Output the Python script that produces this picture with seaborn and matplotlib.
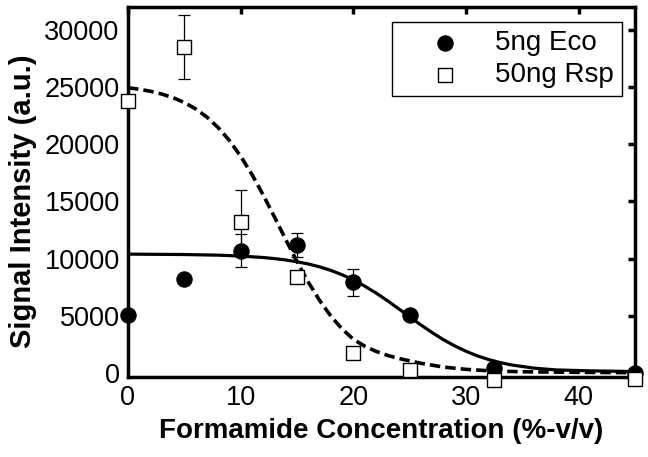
import numpy as np
import pandas as pd
import matplotlib
matplotlib.use("Agg")
import matplotlib.pyplot as plt
import seaborn as sns

# measured points
conc = [0, 5, 10, 15, 20, 25, 32.5, 45]
eco_signal = [5060, 8200, 10700, 11200, 7950, 5060, 440, 0]
eco_err = [250, 250, 1450, 1050, 1180, 250, 250, 250]
rsp_signal = [23800, 28500, 13200, 8380, 1750, 260, -600, -500]
rsp_err = [300, 2800, 2800, 400, 300, 300, 150, 150]

# fitted curves
eco_fit_x = [0, 5, 8, 10, 12, 13, 14, 15, 16, 17, 18, 19, 20, 21, 22, 23, 24,
             25, 26, 27, 28, 29, 30, 31, 32, 33, 34, 36, 38, 41, 45]
eco_fit_y = [10390, 10355, 10300, 10220, 10095, 10000, 9880, 9720, 9530, 9280,
             8970, 8590, 8130, 7600, 7000, 6340, 5630, 4910, 4200, 3530, 2910,
             2370, 1900, 1500, 1180, 920, 710, 430, 270, 190, 130]
rsp_fit_x = [0, 1, 2, 3, 4, 5, 6, 7, 8, 9, 10, 11, 12, 13, 14, 15, 16, 17, 18,
             19, 20, 21, 22, 23, 24, 26, 28, 30, 32.5, 35, 40, 45]
rsp_fit_y = [24930, 24800, 24620, 24380, 24065, 23640, 23085, 22370, 21450,
             20320, 18950, 17355, 15560, 13640, 11665, 9740, 7950, 6350, 4980,
             3850, 2950, 2350, 1900, 1550, 1280, 850, 520, 320, 170, 110, 60, 30]

sns.set_theme(style="white")
plt.rcParams["font.family"] = ["Liberation Sans", "DejaVu Sans"]
plt.rcParams.update({"text.color": "black", "axes.labelcolor": "black",
                     "xtick.color": "black", "ytick.color": "black"})

fig = plt.figure(figsize=(6.48, 4.57), dpi=100)
ax = fig.add_axes([0.1975, 0.175, 0.7825, 0.81])

eco_fit = pd.DataFrame({"x": eco_fit_x, "y": eco_fit_y})
rsp_fit = pd.DataFrame({"x": rsp_fit_x, "y": rsp_fit_y})
sns.lineplot(data=eco_fit, x="x", y="y", color="black", lw=2.3, ax=ax,
             sort=False, zorder=3)
sns.lineplot(data=rsp_fit, x="x", y="y", color="black", lw=2.6, ax=ax,
             sort=False, linestyle=(0, (2.9, 1.4)), zorder=3)

ax.errorbar(conc, eco_signal, yerr=eco_err, fmt="none", ecolor="black",
            elinewidth=0.9, capsize=4.5, capthick=0.9, zorder=2, clip_on=False)
ax.errorbar(conc, rsp_signal, yerr=rsp_err, fmt="none", ecolor="black",
            elinewidth=0.9, capsize=4.5, capthick=0.9, zorder=2, clip_on=False)

pts = pd.DataFrame({"x": conc, "eco": eco_signal, "rsp": rsp_signal})
sns.scatterplot(data=pts, x="x", y="eco", marker="o", s=120, color="black",
                edgecolor="black", ax=ax, label="5ng Eco", zorder=4, clip_on=False)
sns.scatterplot(data=pts, x="x", y="rsp", marker="s", s=95, facecolor="white",
                edgecolor="black", linewidth=1.0, ax=ax, label="50ng Rsp",
                zorder=4, clip_on=False)

ax.set_xlim(0, 45)
ax.set_ylim(-350, 32000)
ax.set_xticks([0, 10, 20, 30, 40])
ax.set_yticks([0, 5000, 10000, 15000, 20000, 25000, 30000])
ax.set_xlabel("Formamide Concentration (%-v/v)", fontsize=20,
              fontweight="bold", labelpad=5)
ax.set_ylabel("Signal Intensity (a.u.)", fontsize=21, fontweight="bold")
ax.yaxis.set_label_coords(-0.18, 0.475)
ax.tick_params(direction="in", length=5, width=2.5, labelsize=19.5,
               top=True, right=True, pad=6)
for sp in ax.spines.values():
    sp.set_linewidth(2.5)
    sp.set_color("black")

leg = ax.legend(loc="upper right", bbox_to_anchor=(0.974, 0.959),
                fontsize=20, frameon=True, fancybox=False, framealpha=1,
                edgecolor="black", handletextpad=0.2, borderpad=0.3,
                labelspacing=0.2, handlelength=3.2, borderaxespad=0)
leg.get_frame().set_linewidth(1.0)

fig.savefig("out.png", dpi=100)
